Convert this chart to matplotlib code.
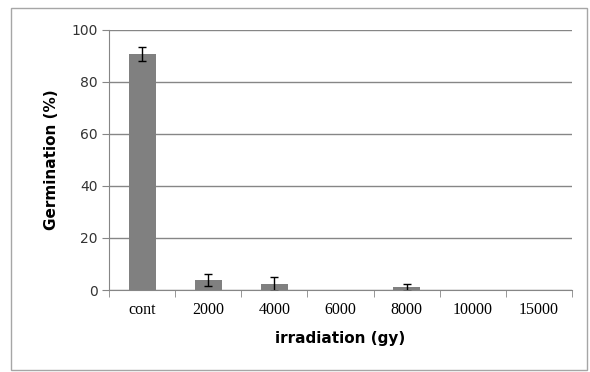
import numpy as np
import matplotlib.pyplot as plt
from matplotlib.patches import Rectangle

categories = ['cont', '2000', '4000', '6000', '8000', '10000', '15000']
germination = [90.5, 3.8, 2.4, 0, 1.0, 0, 0]
errors = [2.7, 2.3, 2.6, 0, 1.2, 0, 0]

fig = plt.figure(figsize=(5.9, 3.72), dpi=100)
fig.patches.append(Rectangle((11 / 590, 0.005), 576 / 590, 1 - 8 / 372 - 0.005,
                             transform=fig.transFigure, fill=False,
                             edgecolor='#a6a6a6', linewidth=1))
ax = fig.add_axes([109 / 590, 1 - 290 / 372, 463 / 590, 260.5 / 372])

x = np.arange(len(categories))
ax.bar(x, germination, width=0.41, color='#808080', zorder=3)
mask = [e > 0 for e in errors]
ax.errorbar(x[mask], np.array(germination)[mask], yerr=np.array(errors)[mask],
            fmt='none', ecolor='black', elinewidth=1, capsize=3, capthick=1, zorder=4)

ax.set_xlim(-0.5, len(categories) - 0.5)
ax.set_ylim(0, 100)
ax.set_yticks(range(0, 101, 20))
ax.set_xticks(x)
ax.set_xticklabels(categories, family='Liberation Serif', fontsize=11.5)
ax.tick_params(axis='x', length=0, pad=9)
ax.set_xticks(np.arange(-0.5, len(categories), 1), minor=True)
ax.tick_params(axis='x', which='minor', length=5, color='#868686')
ax.tick_params(axis='y', length=5, color='#868686', pad=3, labelcolor='#333333')
for t in ax.get_yticklabels():
    t.set_fontsize(10)

ax.grid(axis='y', color='#868686', linewidth=1, zorder=0)
for s in ['top', 'right']:
    ax.spines[s].set_visible(False)
for s in ['left', 'bottom']:
    ax.spines[s].set_color('#868686')

ax.set_ylabel('Germination (%)', fontsize=11, fontweight='bold', labelpad=9)
ax.set_xlabel('irradiation (gy)', fontsize=11, fontweight='bold', labelpad=9)

fig.savefig('out.png', dpi=100)
